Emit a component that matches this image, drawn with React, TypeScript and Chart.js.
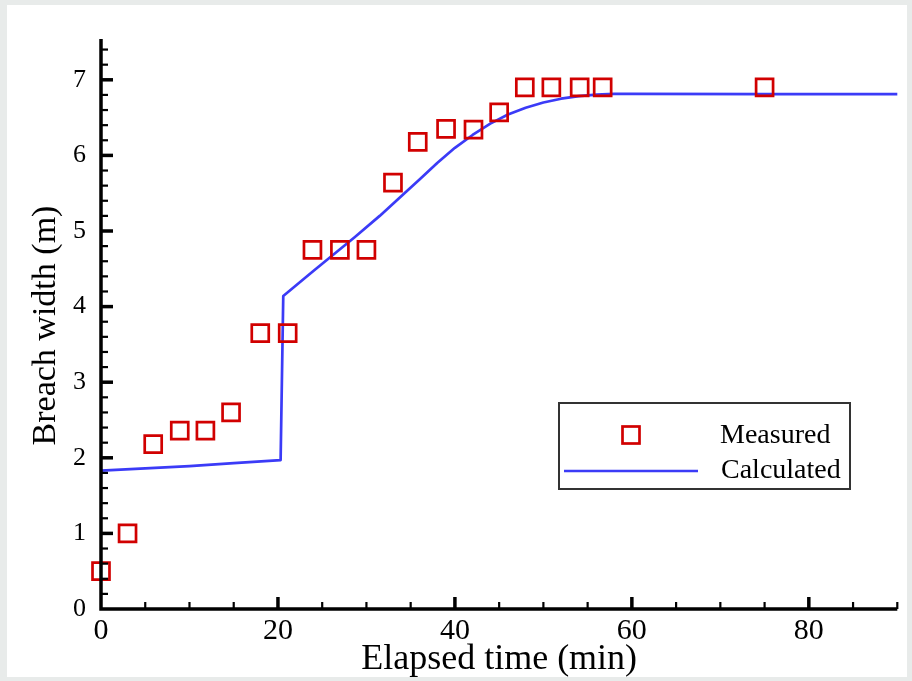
import React, { useEffect, useRef } from "react";
import { Chart, registerables } from "chart.js";

Chart.register(...registerables);

// ---- data ----
const MEAS_X = [0, 3.0, 5.9, 8.9, 11.8, 14.7, 18.0, 21.1, 23.9, 27.0, 30.0, 33.0, 35.8, 39.0, 42.1, 45.0, 47.9, 50.9, 54.1, 56.7, 75.0];
const MEAS_Y = [0.5, 1.0, 2.18, 2.36, 2.36, 2.6, 3.65, 3.65, 4.75, 4.75, 4.75, 5.64, 6.18, 6.35, 6.34, 6.57, 6.9, 6.9, 6.9, 6.9, 6.9];

const CALC_X = [0, 5, 10, 15, 20.3, 20.6, 24, 28.7, 31.5, 34.3, 36, 38, 40, 42, 44, 46, 48, 50, 52, 54, 56, 58, 60, 75, 90];
const CALC_Y = [1.83, 1.86, 1.89, 1.93, 1.97, 4.14, 4.47, 4.92, 5.2, 5.5, 5.68, 5.9, 6.1, 6.27, 6.42, 6.54, 6.63, 6.7, 6.75, 6.785, 6.805, 6.815, 6.815, 6.81, 6.81];

const X_TICKS = [0, 20, 40, 60, 80];
const Y_TICKS = [0, 1, 2, 3, 4, 5, 6, 7];

const SERIES_NAMES = ["Measured", "Calculated"];
const X_TITLE = "Elapsed time (min)";
const Y_TITLE = "Breach width (m)";

const FONT = "'Liberation Serif', 'Times New Roman', serif";
const RED = "#d10000";
const BLUE = "#3b3bf7";

const backgroundPlugin = {
  id: "bgPanel",
  beforeDraw(chart: any) {
    const { ctx, width, height } = chart;
    ctx.save();
    ctx.fillStyle = "#e8ebea";
    ctx.fillRect(0, 0, width, height);
    ctx.fillStyle = "#ffffff";
    ctx.fillRect(7, 5, 900, 672);
    ctx.restore();
  },
};

const axesPlugin = {
  id: "insideAxes",
  afterDatasetsDraw(chart: any) {
    const { ctx, chartArea } = chart;
    const xs = chart.scales.x;
    const ys = chart.scales.y;
    const { left, right, top, bottom } = chartArea;
    ctx.save();
    ctx.strokeStyle = "#000";
    ctx.lineCap = "butt";
    ctx.lineWidth = 3.5;
    ctx.beginPath();
    ctx.moveTo(left, top - 3);
    ctx.lineTo(left, bottom);
    ctx.lineTo(right, bottom);
    ctx.stroke();
    for (let i = 1; i <= 37; i++) {
      const v = i * 0.2;
      const major = i % 5 === 0;
      const py = ys.getPixelForValue(v);
      ctx.lineWidth = major ? 3.5 : 2.2;
      ctx.beginPath();
      ctx.moveTo(left, py);
      ctx.lineTo(left + (major ? 12 : 7), py);
      ctx.stroke();
    }
    for (let i = 1; i <= 18; i++) {
      const v = i * 5;
      const major = v % 20 === 0;
      const px = xs.getPixelForValue(v);
      ctx.lineWidth = major ? 3.5 : 2.2;
      ctx.beginPath();
      ctx.moveTo(px, bottom);
      ctx.lineTo(px, bottom - (major ? 12 : 7));
      ctx.stroke();
    }
    ctx.restore();
  },
};

const legendPlugin = {
  id: "boxLegend",
  afterDraw(chart: any) {
    const { ctx } = chart;
    const ds = chart.data.datasets;
    const bx = 559, by = 403, bw = 291, bh = 86;
    ctx.save();
    ctx.fillStyle = "#fff";
    ctx.fillRect(bx, by, bw, bh);
    ctx.strokeStyle = "#333";
    ctx.lineWidth = 2;
    ctx.strokeRect(bx, by, bw, bh);
    ctx.strokeStyle = ds[0].borderColor;
    ctx.lineWidth = ds[0].pointBorderWidth;
    const s = 17;
    ctx.strokeRect(631 - s / 2, 435 - s / 2, s, s);
    ctx.strokeStyle = ds[1].borderColor;
    ctx.lineWidth = ds[1].borderWidth;
    ctx.beginPath();
    ctx.moveTo(564, 471);
    ctx.lineTo(698, 471);
    ctx.stroke();
    ctx.fillStyle = "#000";
    ctx.font = `28px ${FONT}`;
    ctx.textBaseline = "middle";
    ctx.textAlign = "left";
    ctx.fillText(ds[0].label, 720, 436);
    ctx.fillText(ds[1].label, 721, 471);
    ctx.restore();
  },
};

export default function App() {
  const ref = useRef<HTMLCanvasElement | null>(null);

  useEffect(() => {
    if (!ref.current) return;
    const chart = new Chart(ref.current, {
      type: "scatter",
      data: {
        datasets: [
          {
            label: SERIES_NAMES[0],
            data: MEAS_X.map((x, i) => ({ x, y: MEAS_Y[i] })),
            showLine: false,
            pointStyle: "rect",
            pointRadius: 12,
            pointHoverRadius: 12,
            pointBorderWidth: 2.7,
            borderColor: RED,
            pointBorderColor: RED,
            pointBackgroundColor: "rgba(0,0,0,0)",
            backgroundColor: "rgba(0,0,0,0)",
            clip: false,
          } as any,
          {
            label: SERIES_NAMES[1],
            data: CALC_X.map((x, i) => ({ x, y: CALC_Y[i] })),
            showLine: true,
            borderColor: BLUE,
            borderWidth: 2.7,
            pointRadius: 0,
            pointHoverRadius: 0,
            tension: 0,
            borderJoinStyle: "round",
            fill: false,
            clip: false,
          } as any,
        ],
      },
      options: {
        animation: false,
        responsive: false,
        events: [],
        layout: { padding: { left: 0, right: 8, top: 42, bottom: 0 } },
        plugins: {
          legend: { display: false },
          tooltip: { enabled: false },
        },
        scales: {
          x: {
            type: "linear",
            min: 0,
            max: 90,
            grid: { display: false },
            border: { display: false },
            ticks: {
              font: { family: FONT, size: 30 },
              color: "#000",
              padding: -4,
              maxRotation: 0,
            },
            afterBuildTicks: (s: any) => {
              s.ticks = X_TICKS.map((v) => ({ value: v }));
            },
            afterFit: (s: any) => {
              s.height = 72;
            },
            title: {
              display: true,
              text: X_TITLE,
              font: { family: FONT, size: 36 },
              color: "#000",
              padding: { top: 0, bottom: 0 },
            },
          },
          y: {
            type: "linear",
            min: 0,
            max: 7.5,
            grid: { display: false },
            border: { display: false },
            ticks: {
              font: { family: FONT, size: 26 },
              color: "#000",
              padding: 7,
            },
            afterBuildTicks: (s: any) => {
              s.ticks = Y_TICKS.map((v) => ({ value: v }));
            },
            afterFit: (s: any) => {
              s.width = 101;
            },
            title: {
              display: true,
              text: Y_TITLE,
              font: { family: FONT, size: 34 },
              color: "#000",
              padding: { top: 26, bottom: 0 },
            },
          },
        },
      } as any,
      plugins: [backgroundPlugin, axesPlugin, legendPlugin],
    });
    return () => chart.destroy();
  }, []);

  return (
    <div style={{ position: "fixed", left: 0, top: 0, width: 912, height: 681 }}>
      <canvas ref={ref} width={912} height={681} style={{ display: "block" }} />
    </div>
  );
}
